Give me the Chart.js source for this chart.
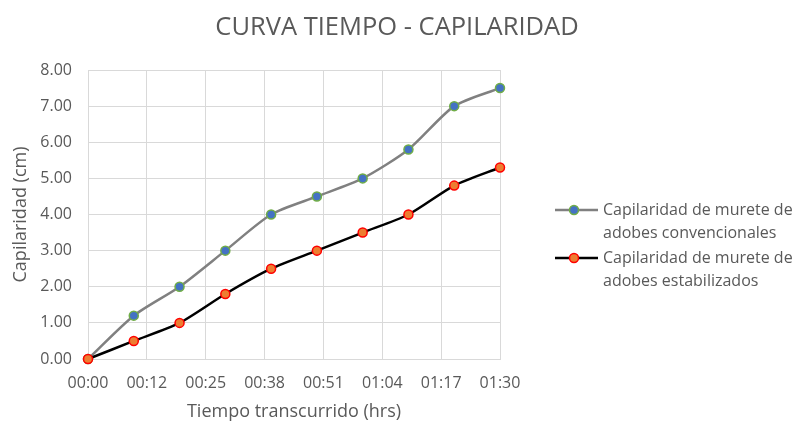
<!DOCTYPE html>
<html>
<head>
<meta charset="utf-8">
<script src="https://cdn.jsdelivr.net/npm/chart.js@4.4.1/dist/chart.umd.min.js"></script>
<style>
html,body{margin:0;padding:0;background:#fff;}
#wrap{width:795px;height:423px;position:relative;}
</style>
</head>
<body>
<div id="wrap"><canvas id="c" width="795" height="423"></canvas></div>
<script>
const chartTitle = 'CURVA TIEMPO - CAPILARIDAD';
const xAxisTitle = 'Tiempo transcurrido (hrs)';
const yAxisTitle = 'Capilaridad (cm)';
const timeMinutes = [0, 10, 20, 30, 40, 50, 60, 70, 80, 90];
const convencionales = [0, 1.2, 2.0, 3.0, 4.0, 4.5, 5.0, 5.8, 7.0, 7.5];
const estabilizados = [0, 0.5, 1.0, 1.8, 2.5, 3.0, 3.5, 4.0, 4.8, 5.3];
const xTickLabels = ['00:00', '00:12', '00:25', '00:38', '00:51', '01:04', '01:17', '01:30'];
const seriesLabels = [
  ['Capilaridad de murete de', 'adobes convencionales'],
  ['Capilaridad de murete de', 'adobes estabilizados']
];

const FONT = "'Open Sans', sans-serif";
const TXT = '#595959';
const GRID = '#d9d9d9';

const decorPlugin = {
  id: 'decor',
  afterDraw(chart) {
    const ctx = chart.ctx;
    ctx.save();
    // chart title, centred on the whole canvas
    ctx.fillStyle = TXT;
    ctx.font = '25.5px ' + FONT;
    ctx.textAlign = 'center';
    ctx.textBaseline = 'middle';
    ctx.fillText(chartTitle, 397, 28);
    // legend
    const entries = chart.data.datasets;
    const x0 = 555, lineLen = 43, textX = 603;
    const startY = [210, 258];
    const lh = 23;
    entries.forEach((ds, i) => {
      const y = startY[i];
      ctx.strokeStyle = ds.borderColor;
      ctx.lineWidth = ds.borderWidth;
      ctx.beginPath();
      ctx.moveTo(x0, y);
      ctx.lineTo(x0 + lineLen, y);
      ctx.stroke();
      ctx.beginPath();
      ctx.arc(x0 + 19, y, ds.pointRadius, 0, Math.PI * 2);
      ctx.fillStyle = ds.pointBackgroundColor;
      ctx.fill();
      ctx.lineWidth = ds.pointBorderWidth;
      ctx.strokeStyle = ds.pointBorderColor;
      ctx.stroke();
      ctx.fillStyle = TXT;
      ctx.font = '16px ' + FONT;
      ctx.textBaseline = 'middle';
      ctx.textAlign = 'left';
      ds.label.forEach((t, j) => ctx.fillText(t, textX, y + j * lh));
    });
    ctx.restore();
  }
};

new Chart(document.getElementById('c'), {
  type: 'line',
  data: {
    datasets: [
      {
        label: seriesLabels[0],
        data: timeMinutes.map((t, i) => ({x: t, y: convencionales[i]})),
        borderColor: '#808080',
        borderWidth: 2.5,
        pointRadius: 4.5,
        pointBackgroundColor: '#4472C4',
        pointBorderColor: '#70AD47',
        pointBorderWidth: 1.5,
        tension: 0.25,
        clip: false,
        order: 1
      },
      {
        label: seriesLabels[1],
        data: timeMinutes.map((t, i) => ({x: t, y: estabilizados[i]})),
        borderColor: '#000000',
        borderWidth: 2.5,
        pointRadius: 4.5,
        pointBackgroundColor: '#ED7D31',
        pointBorderColor: '#FF0000',
        pointBorderWidth: 1.5,
        tension: 0.25,
        clip: false,
        order: 0
      }
    ]
  },
  options: {
    responsive: false,
    animation: false,
    devicePixelRatio: 1,
    layout: {padding: {left: 0, right: 295, top: 70, bottom: 0}},
    plugins: {
      legend: {display: false},
      tooltip: {enabled: false},
      title: {display: false}
    },
    scales: {
      x: {
        type: 'linear',
        min: 0,
        max: 90,
        afterBuildTicks: (scale) => {
          scale.ticks = xTickLabels.map((l, i) => ({value: i * 90 / (xTickLabels.length - 1)}));
        },
        afterFit: (scale) => { scale.height = 64; },
        grid: {color: GRID, lineWidth: 1, drawTicks: false},
        border: {color: GRID, width: 1},
        ticks: {
          color: TXT,
          font: {family: FONT, size: 16},
          padding: 15,
          maxRotation: 0,
          autoSkip: false,
          callback: (v, i) => xTickLabels[i]
        },
        title: {
          display: true,
          text: xAxisTitle,
          color: TXT,
          font: {family: FONT, size: 18},
          padding: {top: 4, bottom: 0}
        }
      },
      y: {
        min: 0,
        max: 8,
        afterFit: (scale) => { scale.width = 88; },
        grid: {color: GRID, lineWidth: 1, drawTicks: false},
        border: {color: GRID, width: 1},
        ticks: {
          color: TXT,
          font: {family: FONT, size: 16},
          stepSize: 1,
          padding: 16,
          callback: (v) => Number(v).toFixed(2)
        },
        title: {
          display: true,
          text: yAxisTitle,
          color: TXT,
          font: {family: FONT, size: 18},
          padding: {top: 10, bottom: 0}
        }
      }
    }
  },
  plugins: [decorPlugin]
});
</script>
</body>
</html>
